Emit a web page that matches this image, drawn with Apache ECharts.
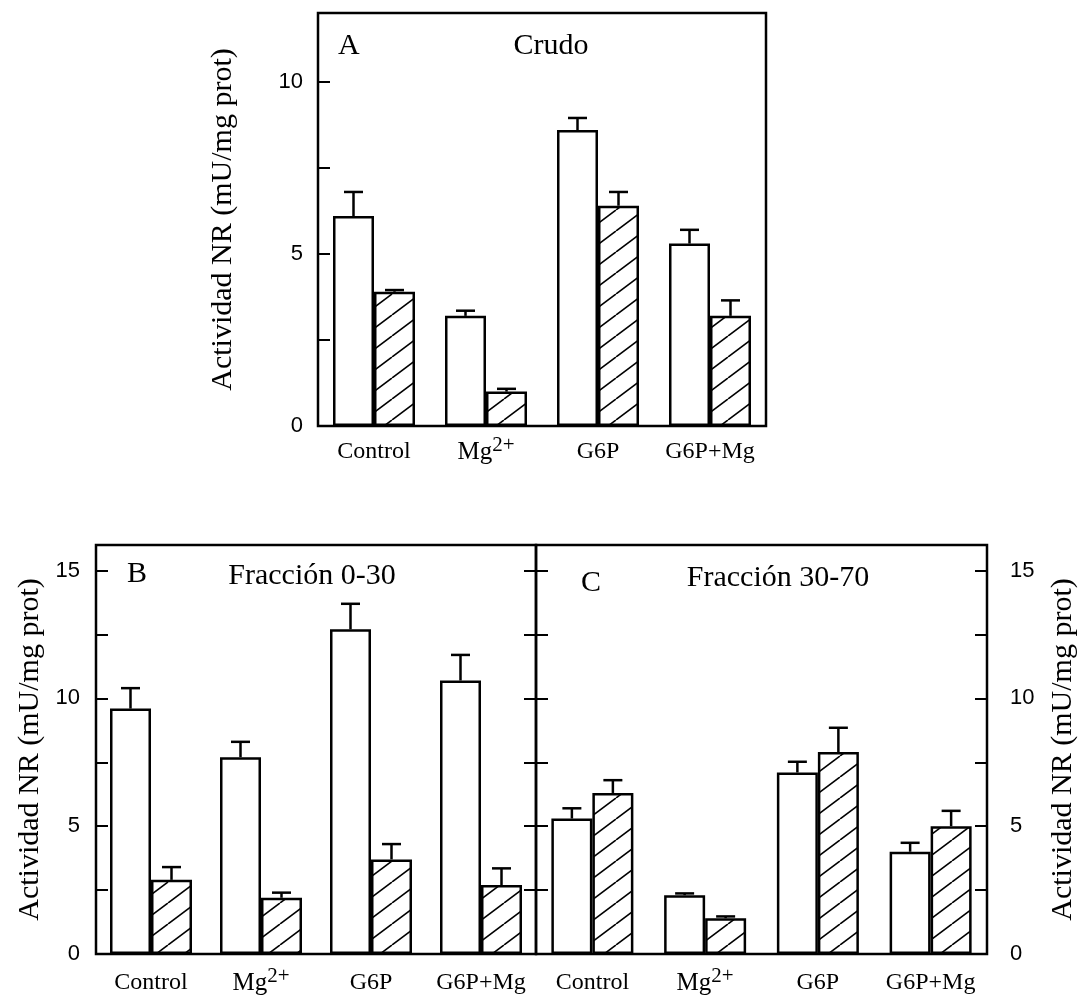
<!DOCTYPE html>
<html>
<head>
<meta charset="utf-8">
<script src="https://cdn.jsdelivr.net/npm/echarts@6/dist/echarts.min.js"></script>
<style>
  html, body { margin: 0; padding: 0; background: #fff; }
  #chart { width: 1088px; height: 1000px; }
</style>
</head>
<body>
<div id="chart"></div>
<script>
// categorias y valores (actividad NR, mU/mg prot)
var categories = ['Control', 'Mg2+', 'G6P', 'G6P+Mg'];

// A: crudo
var crudoBlanco = [6.1, 3.2, 8.6, 5.3];
var crudoBlancoErr = [0.7, 0.15, 0.35, 0.4];
var crudoRayado = [3.9, 1.0, 6.4, 3.2];
var crudoRayadoErr = [0.05, 0.08, 0.4, 0.45];

// B: fraccion 0-30
var f030Blanco = [9.6, 7.7, 12.7, 10.7];
var f030BlancoErr = [0.8, 0.6, 1.0, 1.0];
var f030Rayado = [2.9, 2.2, 3.7, 2.7];
var f030RayadoErr = [0.5, 0.2, 0.6, 0.65];

// C: fraccion 30-70
var f3070Blanco = [5.3, 2.3, 7.1, 4.0];
var f3070BlancoErr = [0.4, 0.07, 0.42, 0.35];
var f3070Rayado = [6.3, 1.4, 7.9, 5.0];
var f3070RayadoErr = [0.5, 0.07, 0.95, 0.6];

var serif = '"Liberation Serif", "Times New Roman", serif';
var sans = '"Liberation Sans", Arial, sans-serif';
var barWidth = 41;
var capWidth = 19;
var yTitle = 'Actividad NR (mU/mg prot)';

// trama de lineas diagonales (/) para las barras rayadas
function makeHatch() {
  var w = 28, h = 21;
  var c = document.createElement('canvas');
  c.width = w; c.height = h;
  var ctx = c.getContext('2d');
  ctx.fillStyle = '#fff';
  ctx.fillRect(0, 0, w, h);
  ctx.strokeStyle = '#000';
  ctx.lineWidth = 1.6;
  [-w, 0, w].forEach(function (dx) {
    ctx.beginPath();
    ctx.moveTo(dx, h);
    ctx.lineTo(dx + w, 0);
    ctx.stroke();
  });
  return c;
}
var hatch = { image: makeHatch(), repeat: 'repeat' };

function catLabel(v) {
  return v === 'Mg2+' ? '{m|Mg}{s|2+}' : v;
}

function xAxis(gridIndex, margin) {
  return {
    type: 'category', gridIndex: gridIndex, data: categories,
    axisLine: { show: false }, axisTick: { show: false },
    axisLabel: {
      interval: 0, margin: margin, color: '#000', fontFamily: serif, fontSize: 24, lineHeight: 34,
      formatter: catLabel,
      rich: {
        m: { fontFamily: serif, fontSize: 25, lineHeight: 34, color: '#000' },
        s: { fontFamily: serif, fontSize: 21, lineHeight: 8, verticalAlign: 'top', color: '#000' }
      }
    }
  };
}

function yAxis(gridIndex, max, position, opts) {
  var ax = {
    type: 'value', gridIndex: gridIndex, position: position,
    min: 0, max: max, interval: 2.5,
    splitLine: { show: false }, axisLine: { show: false },
    axisTick: { show: true, inside: true, length: 12, lineStyle: { color: '#000', width: 2 } },
    axisLabel: { show: false }
  };
  if (opts.labels) {
    ax.axisLabel = {
      show: true, margin: opts.margin, color: '#000', fontFamily: sans, fontSize: 22,
      formatter: function (v) { return v % 5 === 0 ? String(v) : ''; }
    };
    ax.name = yTitle;
    ax.nameLocation = 'middle';
    ax.nameRotate = 90;
    ax.nameGap = opts.nameGap;
    ax.nameTextStyle = { fontFamily: serif, fontSize: 30, color: '#000', lineHeight: 30 };
  }
  return ax;
}

function barSeries(xi, yi, values, fill) {
  return {
    type: 'bar', xAxisIndex: xi, yAxisIndex: yi, data: values,
    barWidth: barWidth, barGap: '0%',
    itemStyle: { color: fill, borderColor: '#000', borderWidth: 2.5 },
    emphasis: { disabled: true }
  };
}

function errSeries(xi, yi, values, errs, side) {
  return {
    type: 'custom', xAxisIndex: xi, yAxisIndex: yi, z: 5,
    data: values.map(function (v, i) { return [i, v, v + errs[i]]; }),
    renderItem: function (params, api) {
      var base = api.coord([api.value(0), api.value(1)]);
      var top = api.coord([api.value(0), api.value(2)]);
      var x = base[0] + side * barWidth / 2;
      var st = { stroke: '#000', lineWidth: 2.5 };
      return {
        type: 'group',
        children: [
          { type: 'line', shape: { x1: x, y1: base[1], x2: x, y2: top[1] }, style: st },
          { type: 'line', shape: { x1: x - capWidth / 2, y1: top[1], x2: x + capWidth / 2, y2: top[1] }, style: st }
        ]
      };
    }
  };
}

function panelText(text, x, y, align) {
  return {
    type: 'text', x: x, y: y,
    style: { text: text, fill: '#000', font: '30px ' + serif, align: align, verticalAlign: 'middle' }
  };
}

var chart = echarts.init(document.getElementById('chart'));
var gridStyle = { show: true, borderColor: '#000', borderWidth: 2.5, backgroundColor: 'transparent' };

chart.setOption({
  animation: false,
  backgroundColor: '#fff',
  grid: [
    Object.assign({ left: 318, top: 13, width: 448, height: 413 }, gridStyle),
    Object.assign({ left: 96, top: 545, width: 440, height: 413 }, gridStyle),
    Object.assign({ left: 536, top: 545, width: 451, height: 413 }, gridStyle)
  ],
  xAxis: [xAxis(0, 9), xAxis(1, 12), xAxis(2, 12)],
  yAxis: [
    yAxis(0, 12, 'left', { labels: true, margin: 15, nameGap: 80 }),
    yAxis(1, 16, 'left', { labels: true, margin: 16, nameGap: 51 }),
    yAxis(1, 16, 'right', {}),
    yAxis(2, 16, 'left', {}),
    yAxis(2, 16, 'right', { labels: true, margin: 23, nameGap: 61 })
  ],
  series: [
    barSeries(0, 0, crudoBlanco, '#fff'),
    barSeries(0, 0, crudoRayado, hatch),
    errSeries(0, 0, crudoBlanco, crudoBlancoErr, -1),
    errSeries(0, 0, crudoRayado, crudoRayadoErr, 1),

    barSeries(1, 1, f030Blanco, '#fff'),
    barSeries(1, 1, f030Rayado, hatch),
    errSeries(1, 1, f030Blanco, f030BlancoErr, -1),
    errSeries(1, 1, f030Rayado, f030RayadoErr, 1),

    barSeries(2, 4, f3070Blanco, '#fff'),
    barSeries(2, 4, f3070Rayado, hatch),
    errSeries(2, 4, f3070Blanco, f3070BlancoErr, -1),
    errSeries(2, 4, f3070Rayado, f3070RayadoErr, 1)
  ],
  graphic: [
    panelText('A', 338, 46, 'left'),
    panelText('Crudo', 551, 46, 'center'),
    panelText('B', 127, 574, 'left'),
    panelText('Fracción 0-30', 312, 576, 'center'),
    panelText('C', 581, 583, 'left'),
    panelText('Fracción 30-70', 778, 578, 'center')
  ]
});
window.onresize = chart.resize;
</script>
</body>
</html>
